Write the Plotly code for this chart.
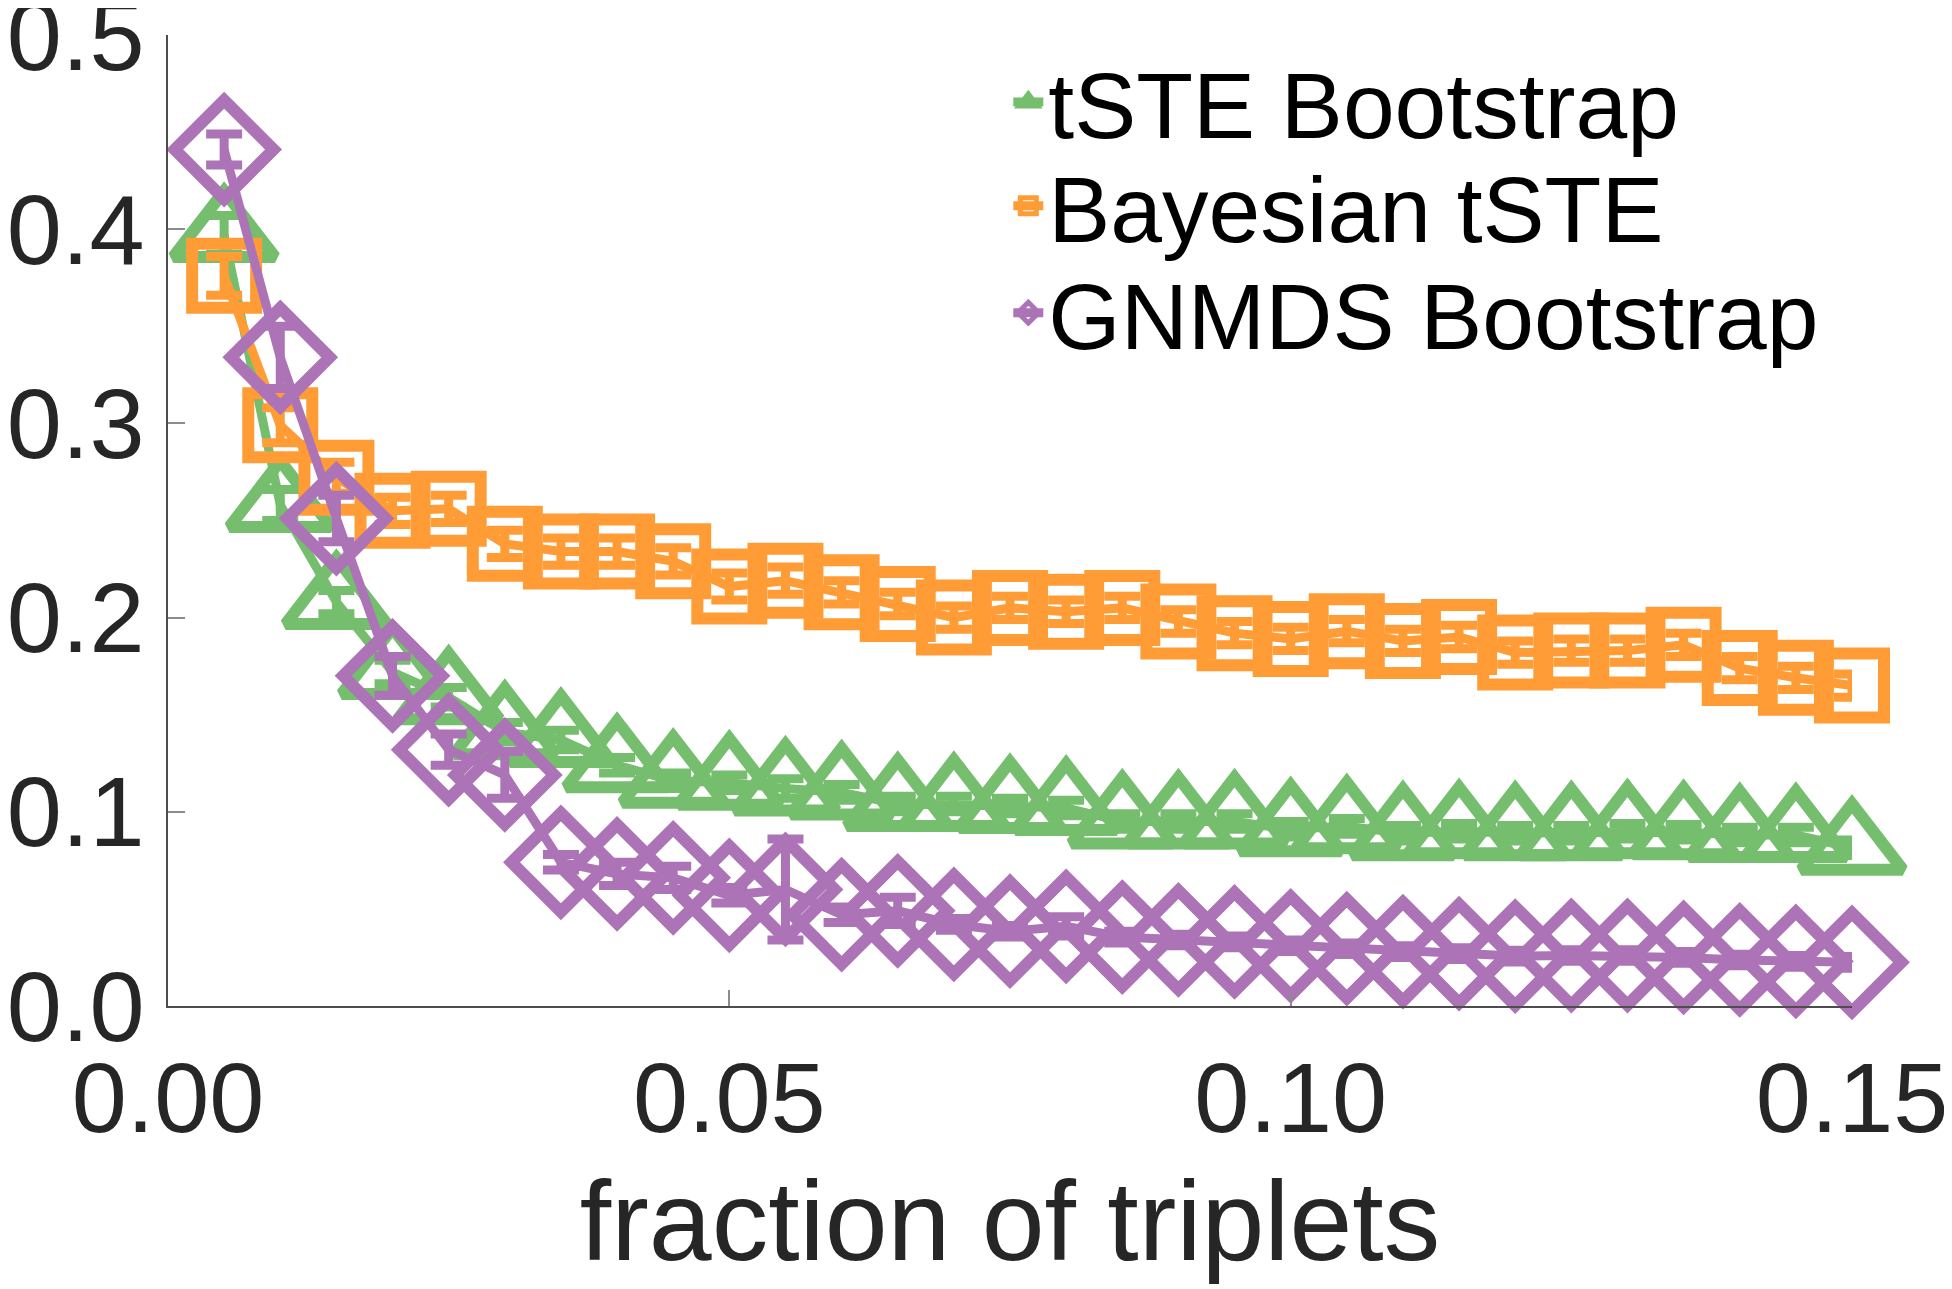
import plotly.graph_objects as go

# fraction of triplets used (x) and the mean error per method, with error bar half-widths
fraction = [0.005, 0.010, 0.015, 0.020, 0.025, 0.030, 0.035, 0.040, 0.045, 0.050,
            0.055, 0.060, 0.065, 0.070, 0.075, 0.080, 0.085, 0.090, 0.095, 0.100,
            0.105, 0.110, 0.115, 0.120, 0.125, 0.130, 0.135, 0.140, 0.145, 0.150]

tste_boot = [0.397, 0.258, 0.208, 0.172, 0.159, 0.141, 0.137, 0.124, 0.116, 0.115,
             0.112, 0.110, 0.104, 0.104, 0.103, 0.102, 0.095, 0.095, 0.095, 0.091,
             0.0925, 0.089, 0.090, 0.089, 0.089, 0.090, 0.0895, 0.088, 0.088, 0.0815]
tste_boot_err = [0.010, 0.008, 0.006, 0.006, 0.005, 0.005, 0.005, 0.004, 0.004, 0.004,
                 0.005, 0.004, 0.004, 0.004, 0.004, 0.004, 0.004, 0.004, 0.004, 0.004,
                 0.004, 0.004, 0.004, 0.004, 0.004, 0.004, 0.004, 0.004, 0.004, 0.004]

bayes_tste = [0.376, 0.299, 0.272, 0.255, 0.256, 0.238, 0.234, 0.234, 0.229, 0.216,
              0.219, 0.213, 0.207, 0.200, 0.205, 0.203, 0.205, 0.198, 0.192, 0.189,
              0.193, 0.188, 0.190, 0.182, 0.183, 0.183, 0.186, 0.174, 0.169, 0.165]
bayes_tste_err = [0.010, 0.009, 0.008, 0.007, 0.007, 0.007, 0.007, 0.007, 0.007, 0.007,
                  0.007, 0.006, 0.006, 0.006, 0.006, 0.006, 0.006, 0.006, 0.006, 0.006,
                  0.006, 0.006, 0.006, 0.006, 0.006, 0.006, 0.006, 0.006, 0.006, 0.006]

gnmds_boot = [0.441, 0.334, 0.251, 0.170, 0.132, 0.119, 0.074, 0.068, 0.066, 0.057,
              0.060, 0.047, 0.049, 0.042, 0.0385, 0.041, 0.0355, 0.034, 0.033, 0.031,
              0.0295, 0.028, 0.027, 0.0257, 0.026, 0.026, 0.025, 0.0237, 0.023, 0.0225]
gnmds_boot_err = [0.008, 0.016, 0.012, 0.010, 0.008, 0.012, 0.004, 0.006, 0.006, 0.004,
                  0.026, 0.004, 0.007, 0.003, 0.003, 0.005, 0.003, 0.003, 0.003, 0.003,
                  0.003, 0.003, 0.003, 0.003, 0.003, 0.003, 0.003, 0.003, 0.003, 0.003]

x_ticks = [0.0, 0.05, 0.10, 0.15]
y_ticks = [0.0, 0.1, 0.2, 0.3, 0.4, 0.5]

# drawn in this order so purple sits on top, as in the original.
# each series gets its own legend box so the rows can sit as tight as the original's
SERIES = [
    ("tSTE Bootstrap", tste_boot, tste_boot_err, "#74BE6E", "triangle-up-open", 88, "legend", 1.000),
    ("Bayesian tSTE", bayes_tste, bayes_tste_err, "#FF9C36", "square-open", 64, "legend2", 0.893),
    ("GNMDS Bootstrap", gnmds_boot, gnmds_boot_err, "#AD73B7", "diamond-open", 76, "legend3", 0.783),
]

FONT = "Liberation Sans, Arial, Helvetica, sans-serif"
AXIS_GREY = "#4d4d4d"

fig = go.Figure()
legends = {}
for name, ys, err, color, symbol, size, leg, leg_y in SERIES:
    fig.add_trace(go.Scatter(
        x=fraction, y=ys, name=name, mode="lines+markers", legend=leg,
        line=dict(color=color, width=9),
        marker=dict(symbol=symbol, size=size, color=color,
                    line=dict(color=color, width=12)),
        error_y=dict(type="data", array=err, visible=True,
                     color=color, thickness=9, width=18),
        cliponaxis=False,
    ))
    legends[leg] = dict(x=0.499, y=leg_y, xanchor="left", yanchor="top",
                        bgcolor="rgba(0,0,0,0)",
                        font=dict(size=93, color="black"))

fig.update_xaxes(
    range=[0, 0.15], tickvals=x_ticks, tickformat=".2f",
    ticks="inside", ticklen=16, tickcolor="#8c8c8c", tickwidth=1.5,
    showline=True, linecolor=AXIS_GREY, linewidth=1.5,
    showgrid=False, zeroline=False, ticklabeloverflow="allow",
    tickfont=dict(size=99, color="#262626"), ticklabelstandoff=5,
    title=dict(text="fraction of triplets", standoff=29,
               font=dict(size=113, color="#262626")),
)
fig.update_yaxes(
    range=[0, 0.5], tickvals=y_ticks, tickformat=".1f",
    ticks="inside", ticklen=17, tickcolor="#8c8c8c", tickwidth=1.5,
    showline=True, linecolor=AXIS_GREY, linewidth=1.5,
    showgrid=False, zeroline=False, ticklabeloverflow="allow",
    tickfont=dict(size=99, color="#262626"), ticklabelstandoff=2,
)
# the page body keeps its default 8px margin, so the figure is sized to fit inside it
fig.update_layout(
    width=1944, height=1281,
    margin=dict(l=160, r=100, t=27, b=283, autoexpand=False),
    plot_bgcolor="white", paper_bgcolor="white",
    font=dict(family=FONT, color="#262626"),
    showlegend=True,
    **legends,
)

fig.write_html("out.html")
